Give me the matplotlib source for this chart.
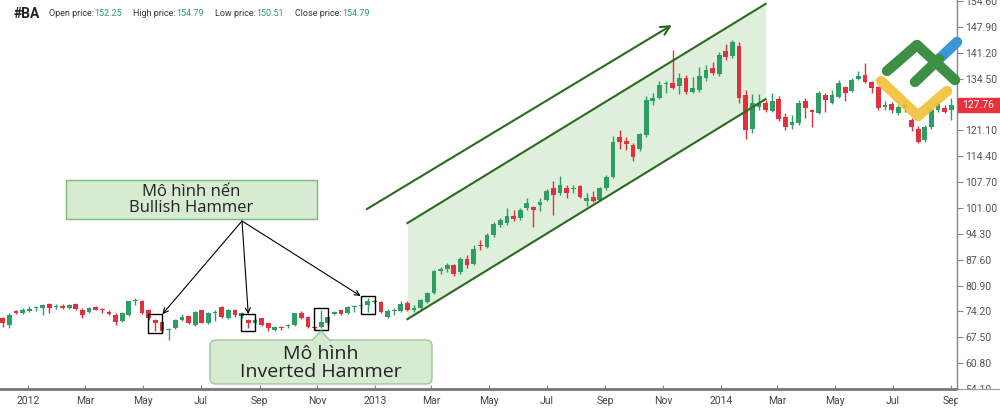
import matplotlib
matplotlib.use("Agg")
import matplotlib.pyplot as plt
import matplotlib.dates as mdates
from matplotlib.patches import Rectangle, FancyBboxPatch, Polygon
import numpy as np
import pandas as pd

plt.rcParams["font.family"] = ["Roboto", "DejaVu Sans"]

# BA weekly candles, Dec 2011 - Sep 2014
opens = [72.4, 70.8, 74.3, 73.8, 74.4, 75.0, 75.0, 76.0, 75.4, 75.7, 75.0, 76.0,
         74.7, 74.0, 75.3, 74.6, 74.1, 73.4, 71.8, 73.2, 76.9, 77.0, 74.7, 72.1,
         71.5, 69.3, 69.8, 72.0, 72.9, 70.7, 74.5, 71.3, 73.7, 75.4, 72.6, 74.5,
         72.9, 72.0, 71.1, 72.4, 71.1, 69.4, 70.2, 70.3, 70.7, 73.7, 72.8, 70.2,
         70.2, 71.1, 73.5, 74.5, 73.7, 75.4, 75.6, 75.9, 76.6, 76.7, 72.8, 74.2,
         74.4, 76.3, 74.7, 75.0, 76.7, 79.0, 84.6, 85.1, 86.2, 84.5, 87.7, 86.6,
         91.5, 91.0, 94.0, 96.6, 97.0, 98.9, 98.3, 100.9, 101.3, 101.9, 103.2, 106.3,
         104.8, 106.3, 106.0, 106.7, 102.9, 103.9, 103.1, 106.1, 109.1, 119.3, 118.4, 117.2,
         116.3, 119.9, 128.8, 129.6, 133.1, 133.5, 132.5, 134.6, 131.1, 131.7, 134.6, 137.2,
         135.7, 141.8, 140.4, 143.0, 130.3, 121.6, 127.1, 128.1, 126.2, 129.2, 124.7, 122.5,
         123.0, 128.8, 126.4, 125.7, 130.3, 128.3, 129.8, 132.3, 131.4, 134.4, 135.5, 133.7,
         132.4, 127.3, 128.0, 125.5, 128.0, 123.8, 121.6, 118.6, 122.1, 126.4, 126.8, 126.4]
highs = [72.8, 73.8, 74.6, 75.0, 75.5, 75.6, 76.2, 76.3, 76.0, 76.0, 76.1, 76.3,
         75.0, 75.4, 75.6, 75.0, 74.6, 73.8, 74.0, 77.0, 77.7, 77.2, 74.9, 72.3,
         71.7, 69.9, 72.2, 73.5, 73.1, 74.4, 74.7, 74.0, 74.6, 75.6, 74.8, 74.8,
         74.0, 72.3, 72.4, 72.6, 71.3, 70.5, 70.5, 70.9, 73.9, 74.2, 73.0, 70.4,
         74.5, 73.1, 74.3, 74.7, 75.7, 75.9, 76.2, 77.6, 77.1, 77.0, 74.8, 75.2,
         76.8, 76.8, 75.8, 77.4, 79.3, 84.9, 85.8, 86.7, 86.5, 88.3, 88.7, 91.4,
         92.7, 94.6, 97.4, 98.4, 101.0, 100.5, 101.0, 103.7, 101.6, 103.5, 105.9, 108.0,
         109.4, 107.0, 107.0, 107.0, 104.8, 105.4, 106.5, 109.5, 119.6, 121.3, 119.3, 117.8,
         120.5, 129.9, 130.9, 134.0, 133.9, 141.9, 136.0, 135.5, 134.9, 137.6, 138.1, 138.9,
         141.4, 143.5, 144.5, 144.1, 131.5, 130.5, 130.5, 129.0, 130.9, 129.9, 125.5, 125.1,
         129.0, 129.4, 126.6, 131.3, 130.7, 131.5, 134.2, 132.6, 134.8, 136.4, 138.5, 134.0,
         132.6, 128.8, 128.5, 127.8, 128.6, 124.2, 122.3, 122.5, 127.0, 128.6, 127.7, 129.5]
lows = [70.2, 69.9, 73.6, 73.5, 74.0, 74.4, 73.4, 73.7, 74.9, 74.8, 74.8, 74.5,
        72.4, 73.8, 74.5, 73.9, 73.2, 70.7, 71.5, 72.9, 75.9, 73.5, 72.0, 69.0,
        68.5, 66.8, 69.6, 71.7, 70.9, 70.5, 71.1, 71.0, 71.6, 72.6, 72.3, 72.8,
        72.6, 69.8, 70.8, 70.4, 69.2, 69.1, 69.5, 69.8, 70.5, 72.2, 70.0, 69.4,
        70.0, 70.8, 73.3, 73.3, 73.5, 74.1, 75.0, 74.1, 76.3, 73.8, 72.5, 73.2,
        74.0, 74.4, 74.1, 74.6, 76.4, 78.7, 84.0, 84.5, 83.5, 84.0, 85.5, 86.2,
        90.1, 90.6, 93.6, 96.1, 96.6, 97.6, 97.9, 100.5, 96.1, 100.3, 102.8, 99.2,
        104.5, 103.5, 104.8, 103.6, 101.6, 102.5, 102.8, 105.6, 108.7, 116.2, 116.0, 113.3,
        115.8, 119.5, 127.7, 129.2, 130.9, 131.9, 130.5, 130.5, 130.9, 131.1, 134.0, 135.5,
        135.2, 139.3, 139.8, 128.2, 118.8, 120.5, 126.5, 126.0, 125.9, 123.6, 121.2, 121.6,
        122.5, 124.2, 122.1, 125.3, 126.0, 127.9, 129.4, 128.8, 131.0, 134.2, 133.3, 130.7,
        126.4, 126.4, 125.5, 125.0, 126.0, 121.0, 117.8, 118.2, 121.6, 126.0, 125.5, 123.9]
closes = [71.1, 73.4, 73.9, 74.6, 74.9, 75.1, 75.9, 75.2, 75.5, 75.0, 75.9, 74.8,
          73.2, 75.1, 74.7, 74.5, 73.6, 71.5, 73.7, 76.8, 77.2, 73.7, 72.4, 71.2,
          69.0, 69.5, 72.0, 72.8, 71.1, 74.1, 71.3, 73.8, 73.9, 72.8, 74.5, 73.2,
          73.7, 71.3, 72.0, 70.7, 69.8, 70.2, 69.8, 70.4, 73.7, 72.4, 70.2, 69.8,
          71.5, 72.8, 74.1, 73.5, 75.4, 75.5, 75.8, 76.9, 76.8, 74.1, 74.3, 74.6,
          76.1, 74.6, 74.8, 77.1, 78.9, 84.7, 85.3, 86.2, 83.9, 87.9, 86.2, 90.5,
          91.1, 94.0, 96.8, 97.9, 98.9, 98.2, 100.6, 102.2, 100.5, 102.6, 105.4, 104.5,
          107.0, 105.0, 106.2, 103.9, 103.7, 102.9, 106.1, 109.1, 118.2, 118.2, 117.6, 114.3,
          120.1, 129.0, 129.6, 132.9, 133.3, 132.2, 134.6, 131.1, 132.2, 135.2, 136.8, 136.1,
          140.6, 140.2, 144.1, 129.4, 121.2, 128.1, 128.1, 126.4, 128.8, 124.0, 122.1, 123.4,
          128.3, 126.8, 126.0, 130.7, 129.0, 130.3, 133.5, 130.7, 134.2, 135.2, 133.7, 132.0,
          126.8, 127.7, 126.4, 127.3, 127.0, 122.1, 118.2, 122.1, 126.4, 128.1, 126.0, 127.76]
weeks = pd.date_range("2011-12-05", periods=len(opens), freq="7D")

last_price = 127.76
y_ticks = [54.1 + 6.7 * k for k in range(16)]

# trend channel and arrow (date, price)
chan_dates = ["2013-02-04", "2014-02-17"]
chan_upper = [97.1, 153.9]
chan_lower = [72.2, 129.2]
trend_dates = ["2012-12-23", "2013-11-10"]
trend_prices = [100.7, 148.4]

# marked candles: (week index, top, bottom)
marks = [(23, 73.5, 68.6), (37, 73.5, 69.1), (48, 75.1, 69.4), (55, 78.2, 73.5)]

GREEN = "#2f9e64"
RED = "#e3303f"
DARKGREEN = "#2b6a1e"

fig = plt.figure(figsize=(10, 4.11), dpi=100)
ax = fig.add_axes([0, 22 / 411, 0.957, 389 / 411])

o = np.array(opens); h = np.array(highs); l = np.array(lows); c = np.array(closes)
x = mdates.date2num(weeks)
cols = np.where(c >= o, GREEN, RED)

# channel
cd = mdates.date2num(pd.to_datetime(chan_dates))
ax.fill_between(cd, chan_lower, chan_upper, color="#deefdb", lw=0, zorder=1)
ax.plot(cd, chan_upper, color=DARKGREEN, lw=1.5, zorder=5)
ax.plot(cd, chan_lower, color=DARKGREEN, lw=1.5, zorder=5)
td = mdates.date2num(pd.to_datetime(trend_dates))
ax.annotate("", xy=(td[1], trend_prices[1]), xytext=(td[0], trend_prices[0]),
            arrowprops=dict(arrowstyle="->", color=DARKGREEN, lw=1.5, mutation_scale=16,
                            shrinkA=0, shrinkB=0))

# candles
ax.vlines(x, l, h, colors=cols, lw=1.0, zorder=3)
ax.bar(x, np.maximum(np.abs(c - o), 0.3), bottom=np.minimum(o, c), width=5,
       color=cols, zorder=4)

for i, top, bot in marks:
    ax.add_patch(Rectangle((x[i] - 7.4, bot), 14.8, top - bot, fill=False,
                           ec="black", lw=1, zorder=6))

ax.set_xlim(mdates.date2num(pd.Timestamp("2011-12-02")), mdates.date2num(pd.Timestamp("2014-09-07")))
ax.set_ylim(54.1, 154.9)

ax.xaxis.set_major_locator(mdates.MonthLocator(bymonth=[1, 3, 5, 7, 9, 11]))
ax.xaxis.set_major_formatter(plt.FuncFormatter(
    lambda v, p: mdates.num2date(v).strftime("%Y" if mdates.num2date(v).month == 1 else "%b")))
ax.yaxis.tick_right()
ax.set_yticks(y_ticks)
# the tick hidden under the last-price tag gets no label
ax.set_yticklabels(["" if abs(v - last_price) < 1 else "%.2f" % v for v in y_ticks])
ax.tick_params(axis="y", length=4, width=0.8, color="#888", labelsize=7.5, labelcolor="#555", pad=2)
ax.tick_params(axis="x", length=3, width=0.8, color="#888", direction="in", labelsize=7.5,
               labelcolor="#444", pad=5)
for s in ["top", "left"]:
    ax.spines[s].set_visible(False)
ax.spines["right"].set_color("#888")
ax.spines["right"].set_linewidth(1)
ax.spines["bottom"].set_color("#777")
ax.spines["bottom"].set_linewidth(2)

# overlay in pixel coordinates
ov = fig.add_axes([0, 0, 1, 1])
ov.set_xlim(0, 1000)
ov.set_ylim(411, 0)
ov.axis("off")
ov.patch.set_alpha(0)

ov.add_patch(Rectangle((957.5, 389), 43, 22, color="white", zorder=1))
ov.plot([957, 1000], [388.5, 388.5], color="#999", lw=0.8)

# last price tag
ov.add_patch(Rectangle((957.5, 97.5), 42.5, 14.5, color="#e8313c", zorder=3))
ov.text(962, 105, "%.2f" % last_price, color="white", fontsize=7.5, va="center", zorder=4)

# header
ov.text(14, 14, "#BA", fontsize=10, fontweight="bold", color="#222", va="center")
hdr = [(49, "Open price:", 94, "152.25"), (133, "High price:", 176, "154.79"),
       (215, "Low price:", 256, "150.51"), (295, "Close price:", 342, "154.79")]
for x1, t1, x2, t2 in hdr:
    ov.text(x1, 14, t1, fontsize=6.5, color="#333", va="center")
    ov.text(x2, 14, t2, fontsize=6.5, color="#2e9c63", va="center")

# label box 1 + arrows
ov.add_patch(Rectangle((66, 180), 251, 39, fc="#d6ebd2", ec="#7dbb7a", lw=1, zorder=3))
ov.text(191.5, 200, "Mô hình nến\nBullish Hammer", fontsize=12, family="Open Sans",
        color="#222", ha="center", va="center", linespacing=1.0, zorder=4)
targets = [(x[23] + 7.4, 73.5), (x[37], 73.5), (x[55] - 7.4, 78.2)]
for tx, ty in targets:
    ov.annotate("", xy=(tx, ty), xycoords=ax.transData, xytext=(242, 221), textcoords="data",
                arrowprops=dict(arrowstyle="->", color="black", lw=0.8, mutation_scale=9,
                                shrinkA=0, shrinkB=0))

# label box 2
ov.add_patch(FancyBboxPatch((210, 340), 222, 44, boxstyle="round,pad=0,rounding_size=6",
                            fc="#d6ebd2", ec="#9cc79a", lw=1, zorder=3))
ov.add_patch(Polygon([(312, 341), (321, 331), (330, 341)], closed=True, fc="#d6ebd2", ec="none", zorder=4))
ov.plot([312, 321, 330], [340.5, 331, 340.5], color="#9cc79a", lw=1, zorder=5)
ov.text(321, 363, "Mô hình\nInverted Hammer", fontsize=14, family="Open Sans",
        color="#222", ha="center", va="center", linespacing=0.95, zorder=6)

# logo
ov.plot([938, 957], [60, 42], color="#3b95d8", lw=7.5, solid_capstyle="round", zorder=7)
ov.plot([887, 917, 955], [71, 45, 80], color="#3d8f45", lw=7.5, solid_capstyle="round",
        solid_joinstyle="round", zorder=8)
ov.plot([915, 939], [82, 59], color="#3d8f45", lw=7.5, solid_capstyle="round", zorder=8)
ov.plot([881, 918, 947], [81, 116, 91], color="#f0c23a", lw=7.5, solid_capstyle="round",
        solid_joinstyle="round", alpha=0.92, zorder=9)

fig.savefig("out.png", dpi=100)
